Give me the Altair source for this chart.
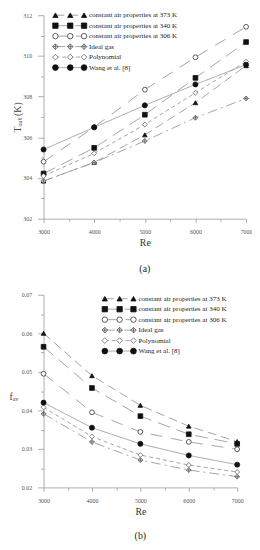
import altair as alt
import pandas as pd

# ---------------- data ----------------
re_values = [3000, 4000, 5000, 6000, 7000]
series_names = [
    "constant air properties at 373 K",
    "constant air properties at 340 K",
    "constant air properties at 306 K",
    "Ideal gas",
    "Polynomial",
    "Wang et al. [8]",
]
# panel (a): outlet temperature (K)
tout_373 = [303.85, 304.77, 306.12, 307.70, 309.52]
tout_340 = [304.22, 305.48, 307.11, 308.92, 310.68]
tout_306 = [304.80, 306.50, 308.34, 309.93, 311.43]
tout_ideal = [303.85, 304.76, 305.82, 306.96, 307.91]
tout_poly = [304.10, 305.21, 306.63, 308.19, 309.72]
tout_wang = [305.40, 306.49, 307.57, 308.60, 309.57]
# panel (b): friction factor
f_373 = [0.0600, 0.0490, 0.0413, 0.0359, 0.0319]
f_340 = [0.0565, 0.0458, 0.0385, 0.0338, 0.0313]
f_306 = [0.0495, 0.0395, 0.0344, 0.0318, 0.0299]
f_ideal = [0.0391, 0.0318, 0.0271, 0.0245, 0.0228]
f_poly = [0.0408, 0.0332, 0.0284, 0.0258, 0.0240]
f_wang = [0.0420, 0.0355, 0.0313, 0.0283, 0.0259]

# axis tick values
x_major = [3000, 4000, 5000, 6000, 7000]
x_minor = [3500, 4500, 5500, 6500]
ya_major = [302, 304, 306, 308, 310, 312]
ya_minor = [303, 305, 307, 309, 311]
yb_major = [0.02, 0.03, 0.04, 0.05, 0.06, 0.07]
yb_minor = [0.025, 0.035, 0.045, 0.055, 0.065]

SERIF = "Liberation Serif"
LINE_GREY = "#9a9a9a"
AXIS_GREY = "#999999"
DIAMOND_CROSS = "M0,-1L1,0L0,1L-1,0Z M-1,0L1,0 M0,-1L0,1"

shape_scale = alt.Scale(domain=series_names,
                        range=["triangle-up", "square", "circle", DIAMOND_CROSS, "diamond", "circle"])
fill_scale = alt.Scale(domain=series_names,
                       range=["#111111", "#111111", "#ffffff", "#ffffff", "#ffffff", "#111111"])
stroke_scale = alt.Scale(domain=series_names,
                         range=["#111111", "#111111", "#333333", "#555555", "#666666", "#111111"])
dash_scale = alt.Scale(domain=series_names,
                       range=[[9, 5], [13, 7], [12, 9], [10, 4, 2, 4], [4, 3], [1, 0]])
size_main = alt.Scale(domain=series_names, range=[22, 26, 20, 26, 16, 18])
size_leg = alt.Scale(domain=series_names, range=[28, 34, 28, 30, 20, 28])


def long_df(lists):
    rows = []
    for name, vals in zip(series_names, lists):
        for r, v in zip(re_values, vals):
            rows.append({"series": name, "Re": r, "value": v})
    return pd.DataFrame(rows)


def panel(lists, ydom, ymaj, ymin, yfmt, ytitle, ytitle_angle, ytitle_y,
          width, height, leg_x, leg_rows, caption, title_pad, cap_offset):
    df = long_df(lists)
    x_axis = alt.Axis(
        values=x_major, format="d", grid=False, labelFlush=False,
        tickSize=4, labelFont=SERIF, labelFontSize=6, labelColor="#555555", labelPadding=6,
        domainColor=AXIS_GREY, tickColor=AXIS_GREY, tickWidth=0.8, domainWidth=0.8,
        title="Re", titleFont=SERIF, titleFontSize=10, titleFontWeight="normal",
        titleColor="#333333", titlePadding=3,
    )
    y_kw = dict(
        values=ymaj, format=yfmt, grid=False, labelFlush=False,
        tickSize=6, labelFont=SERIF, labelFontSize=6, labelColor="#555555", labelPadding=6,
        domainColor=AXIS_GREY, tickColor=AXIS_GREY, tickWidth=0.8, domainWidth=0.8,
        title=ytitle, titleFont=SERIF, titleFontSize=10, titleFontWeight="normal",
        titleColor="#444444", titleAngle=ytitle_angle, titlePadding=title_pad,
    )
    if ytitle_y is not None:
        y_kw["titleY"] = ytitle_y
    y_axis = alt.Axis(**y_kw)
    x_minor_axis = alt.Axis(values=x_minor, labels=False, tickSize=2.5, domain=False,
                            grid=False, title=None, orient="bottom",
                            tickColor=AXIS_GREY, tickWidth=0.8)
    y_minor_axis = alt.Axis(values=ymin, labels=False, tickSize=3, domain=False,
                            grid=False, title=None, orient="left",
                            tickColor=AXIS_GREY, tickWidth=0.8)

    xs = alt.Scale(domain=[3000, 7000], nice=False)
    ys = alt.Scale(domain=ydom, nice=False, zero=False)

    lines = alt.Chart(df).mark_line(color=LINE_GREY, strokeWidth=0.9).encode(
        x=alt.X("Re:Q", scale=xs, axis=x_axis),
        y=alt.Y("value:Q", scale=ys, axis=y_axis),
        strokeDash=alt.StrokeDash("series:N", scale=dash_scale, legend=None),
    )
    points = alt.Chart(df).mark_point(filled=True, strokeWidth=0.8, opacity=1).encode(
        x=alt.X("Re:Q", scale=xs, axis=x_minor_axis),
        y=alt.Y("value:Q", scale=ys, axis=y_minor_axis),
        shape=alt.Shape("series:N", scale=shape_scale, legend=None),
        fill=alt.Fill("series:N", scale=fill_scale, legend=None),
        stroke=alt.Stroke("series:N", scale=stroke_scale, legend=None),
        size=alt.Size("series:N", scale=size_main, legend=None),
    )
    main = alt.layer(lines, points).resolve_scale(x="independent", y="independent")

    # custom legend (pixel positions inside the plot)
    seg_rows, pt_rows = [], []
    for i, name in enumerate(series_names):
        seg_rows.append({"series": name, "row": i, "x1": leg_x[0], "x2": leg_x[2]})
        for k in range(3):
            pt_rows.append({"series": name, "row": i, "lx": leg_x[k]})
    seg_df = pd.DataFrame(seg_rows)
    pt_df = pd.DataFrame(pt_rows)
    txt_df = pd.DataFrame({"series": series_names, "row": list(range(6))})

    lx_scale = alt.Scale(domain=[0, width], range=[0, width])
    row_scale = alt.Scale(domain=[0, 5], range=[leg_rows[0], leg_rows[1]])
    leg_lines = alt.Chart(seg_df).mark_rule(color=LINE_GREY, strokeWidth=0.9).encode(
        x=alt.X("x1:Q", scale=lx_scale, axis=None), x2="x2:Q",
        y=alt.Y("row:Q", scale=row_scale, axis=None),
        strokeDash=alt.StrokeDash("series:N", scale=dash_scale, legend=None),
    )
    leg_pts = alt.Chart(pt_df).mark_point(filled=True, strokeWidth=0.8, opacity=1).encode(
        x=alt.X("lx:Q", scale=lx_scale, axis=None),
        y=alt.Y("row:Q", scale=row_scale, axis=None),
        shape=alt.Shape("series:N", scale=shape_scale, legend=None),
        fill=alt.Fill("series:N", scale=fill_scale, legend=None),
        stroke=alt.Stroke("series:N", scale=stroke_scale, legend=None),
        size=alt.Size("series:N", scale=size_leg, legend=None),
    )
    leg_txt = alt.Chart(txt_df).mark_text(
        align="left", baseline="middle", font=SERIF, fontSize=7.1, color="#222222"
    ).encode(
        x=alt.value(leg_x[3]),
        y=alt.Y("row:Q", scale=row_scale, axis=None),
        text="series:N",
    )
    legend = alt.layer(leg_lines, leg_pts, leg_txt)

    return alt.layer(main, legend).resolve_scale(
        x="independent", y="independent", size="independent"
    ).properties(
        width=width, height=height,
        title=alt.TitleParams(caption, orient="bottom", anchor="middle", font=SERIF,
                              fontSize=10, fontWeight="normal", color="#222222",
                              offset=cap_offset),
    )


chart_a = panel(
    [tout_373, tout_340, tout_306, tout_ideal, tout_poly, tout_wang],
    [302, 312], ya_major, ya_minor, "d", "Tₒᵤₜ (K)", 270, None,
    205, 206, [12, 27, 41, 46], [0, 53], "(a)", 0, 17,
)
chart_b = panel(
    [f_373, f_340, f_306, f_ideal, f_poly, f_wang],
    [0.02, 0.07], yb_major, yb_minor, ".2f", "fₐᵥ", 0, 108,
    196, 195, [62, 77, 91, 96], [4, 57], "(b)", 8, 15,
)

chart = alt.concat(chart_a, chart_b, columns=1, spacing=18, align="none").configure_view(
    stroke=None
).properties(background="white", padding=0)

chart.save("out.html", embed_options={"renderer": "svg", "actions": False})
